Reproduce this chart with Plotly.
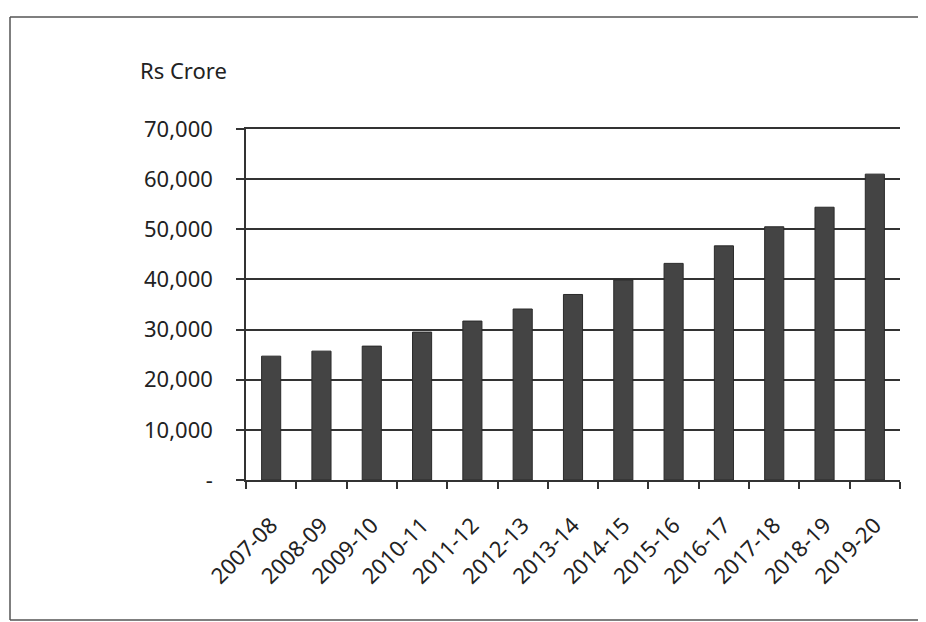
import plotly.graph_objects as go

years = ["2007-08", "2008-09", "2009-10", "2010-11", "2011-12", "2012-13", "2013-14",
         "2014-15", "2015-16", "2016-17", "2017-18", "2018-19", "2019-20"]
values = [24700, 25700, 26700, 29500, 31700, 34100, 37000,
          39900, 43200, 46700, 50500, 54400, 61000]
y_ticks = [0, 10000, 20000, 30000, 40000, 50000, 60000, 70000]
y_labels = ["-", "10,000", "20,000", "30,000", "40,000", "50,000", "60,000", "70,000"]

font = "Noto Sans, Open Sans, sans-serif"

L, T, W, H = 238, 121, 654, 351  # plot area in figure px


def px(xp):
    return (xp - L) / W


def py(yp):
    return (T + H - yp) / H


border = dict(color="#555", width=1.5)
fig = go.Figure(go.Bar(
    x=years, y=values,
    marker=dict(color="#444444", line=dict(color="#2a2a2a", width=1)),
))

fig.update_layout(
    width=926, height=622,
    margin=dict(l=L, r=926 - L - W, t=T, b=622 - T - H),
    paper_bgcolor="white", plot_bgcolor="white",
    bargap=0.62,
    showlegend=False,
    font=dict(family=font, size=22, color="#222"),
    shapes=[
        dict(type="line", xref="paper", yref="paper",
             x0=px(2), x1=px(926), y0=py(9), y1=py(9), line=border),
        dict(type="line", xref="paper", yref="paper",
             x0=px(2), x1=px(2), y0=py(9), y1=py(612), line=border),
        dict(type="line", xref="paper", yref="paper",
             x0=px(2), x1=px(926), y0=py(612), y1=py(612), line=border),
    ],
    annotations=[dict(text="Rs Crore", xref="paper", yref="paper",
                      x=px(130), y=py(62),
                      xanchor="left", yanchor="middle",
                      showarrow=False, font=dict(family=font, size=22, color="#222"))],
)

fig.update_yaxes(
    range=[0, 70000], tickvals=y_ticks, ticktext=y_labels,
    showgrid=True, gridcolor="#333", gridwidth=1.5,
    showline=True, linecolor="#333", linewidth=1.5,
    ticks="outside", ticklen=8, tickcolor="#333", tickwidth=1.5,
    ticklabelstandoff=19,
    zeroline=False,
    tickfont=dict(size=22),
)
fig.update_xaxes(
    type="category",
    tickangle=-45, tickson="boundaries",
    showline=True, linecolor="#333", linewidth=1.5, mirror=True,
    ticks="outside", ticklen=7, tickcolor="#333", tickwidth=1.5,
    ticklabelstandoff=22,
    tickfont=dict(size=22),
)

fig.write_html("out.html")
